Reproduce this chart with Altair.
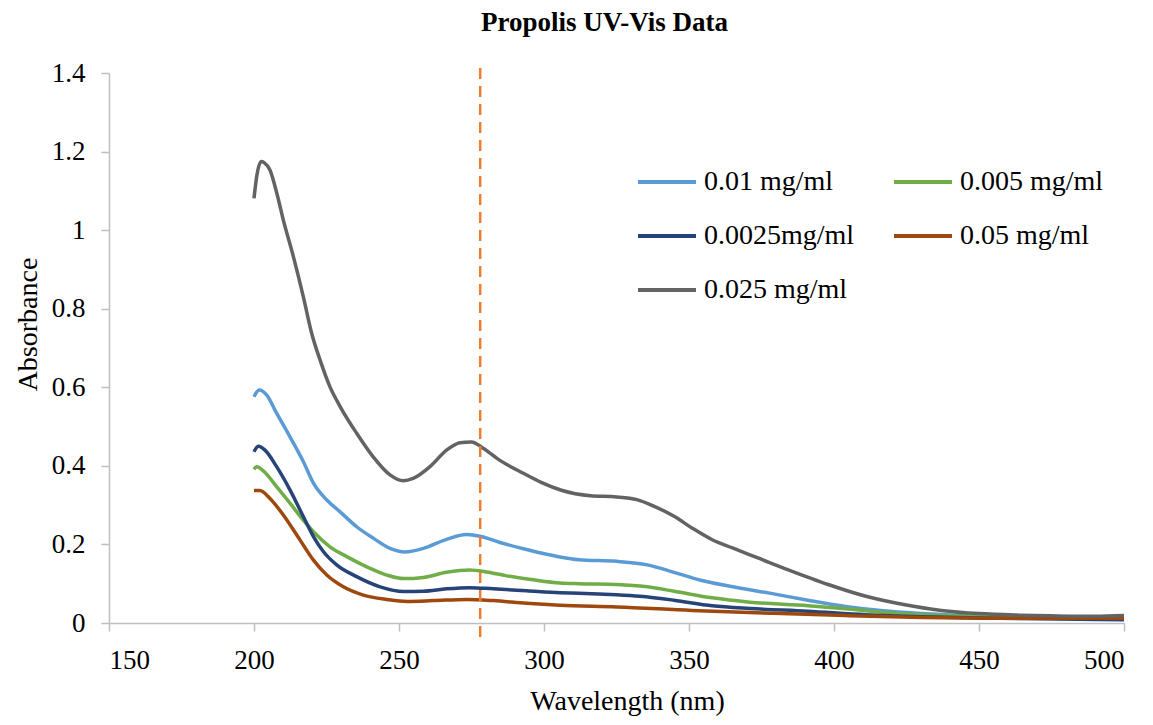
import altair as alt
import pandas as pd

series_names = ["0.01 mg/ml", "0.005 mg/ml", "0.0025mg/ml", "0.05 mg/ml", "0.025 mg/ml"]
series_colors = ["#5B9BD5", "#70AD47", "#264478", "#9E480E", "#636363"]
# legend is filled column by column: first column 0.01, 0.0025, 0.025; second 0.005, 0.05
legend_order = ["0.01 mg/ml", "0.0025mg/ml", "0.025 mg/ml", "0.005 mg/ml", "0.05 mg/ml"]
legend_colors = ["#5B9BD5", "#264478", "#636363", "#70AD47", "#9E480E"]

wl_001 = [200, 201.8, 204.4, 207.8, 212.4, 217, 220.5, 225.1, 229.7, 235.4, 241.1, 246.9, 252, 258.4,
          266.4, 273.3, 277.9, 284.8, 292.9, 299, 305.5, 312, 325, 335.6, 344.8, 354, 364.6, 377.8,
          391, 404, 417, 430.5, 450, 470, 500]
ab_001 = [0.576, 0.593, 0.580, 0.534, 0.474, 0.411, 0.356, 0.313, 0.283, 0.245, 0.216, 0.190, 0.181, 0.190,
          0.213, 0.225, 0.221, 0.205, 0.189, 0.178, 0.168, 0.161, 0.157, 0.148, 0.129, 0.109, 0.093, 0.076,
          0.058, 0.042, 0.031, 0.024, 0.017, 0.014, 0.014]

wl_0005 = [200, 200.9, 203.8, 207.8, 212.4, 217, 221.6, 226.2, 232, 238.9, 245.8, 251.5, 258.4, 266.4,
           274.4, 280.2, 287.1, 296.3, 305.5, 312, 325, 335.6, 344.8, 358, 371, 391, 404, 417, 430.5,
           450, 470, 500]
ab_0005 = [0.391, 0.398, 0.383, 0.347, 0.305, 0.262, 0.224, 0.194, 0.169, 0.143, 0.122, 0.113, 0.116, 0.129,
           0.135, 0.130, 0.120, 0.110, 0.102, 0.100, 0.098, 0.092, 0.081, 0.064, 0.053, 0.044, 0.036, 0.027,
           0.021, 0.016, 0.014, 0.013]

wl_00025 = [200, 201.5, 203.8, 207.8, 212.4, 217, 220.5, 223.9, 228.5, 235.4, 243.5, 251.5, 258.4, 266.4,
            274.4, 282.5, 294, 305.5, 312, 325, 333, 344.8, 358, 371, 391, 411, 430.5, 457, 500]
ab_00025 = [0.436, 0.450, 0.440, 0.398, 0.339, 0.271, 0.220, 0.182, 0.148, 0.118, 0.092, 0.080, 0.081, 0.087,
            0.090, 0.087, 0.082, 0.077, 0.076, 0.072, 0.068, 0.058, 0.044, 0.037, 0.030, 0.021, 0.016, 0.012,
            0.008]

wl_005 = [200, 202, 205.5, 210.1, 215.9, 220.5, 225.1, 230.8, 237.7, 245.8, 252.7, 261.9, 273.3, 282.5,
          294, 305.5, 325, 351, 378, 404, 430.5, 457, 500]
ab_005 = [0.337, 0.337, 0.317, 0.275, 0.211, 0.160, 0.122, 0.092, 0.071, 0.060, 0.055, 0.057, 0.060, 0.057,
          0.050, 0.045, 0.041, 0.032, 0.025, 0.019, 0.014, 0.012, 0.012]

wl_0025 = [200, 201, 202.5, 203.5, 205.5, 208, 210.1, 213.6, 217, 219.9, 222.8, 226.2, 229.7, 235.4, 241.1,
           246.9, 251.5, 254.9, 260.7, 266.4, 271, 275, 279, 284.8, 292.9, 299, 306, 316, 325, 332, 338,
           345, 351, 358, 365, 374, 384, 398, 411, 424, 437, 450, 464, 477, 490, 500]
ab_0025 = [1.081, 1.14, 1.175, 1.172, 1.153, 1.09, 1.026, 0.932, 0.831, 0.737, 0.669, 0.601, 0.551, 0.483,
           0.423, 0.377, 0.362, 0.368, 0.398, 0.440, 0.459, 0.461, 0.445, 0.414, 0.381, 0.358, 0.338, 0.324,
           0.321, 0.314, 0.297, 0.271, 0.242, 0.212, 0.191, 0.165, 0.136, 0.098, 0.068, 0.047, 0.032, 0.024,
           0.020, 0.018, 0.017, 0.019]

marker_wavelength = [278]
x_ticks = [150, 200, 250, 300, 350, 400, 450, 500]
y_ticks = [0, 0.2, 0.4, 0.6, 0.8, 1.0, 1.2, 1.4]

all_series = [
    (series_names[0], wl_001, ab_001),
    (series_names[1], wl_0005, ab_0005),
    (series_names[2], wl_00025, ab_00025),
    (series_names[3], wl_005, ab_005),
    (series_names[4], wl_0025, ab_0025),
]
rows = []
for name, wls, abs_ in all_series:
    for w, a in zip(wls, abs_):
        rows.append({"series": name, "wavelength": w, "absorbance": a})
df = pd.DataFrame(rows)

W, H = 1015, 550
FONT = "Liberation Serif"

x_enc = alt.X("wavelength:Q", scale=alt.Scale(domain=[150, 500], nice=False, zero=False),
              axis=alt.Axis(values=x_ticks, title="Wavelength (nm)", titleX=518, titleY=78,
                            titleBaseline="middle", labelPadding=16, labelFont=FONT,
                            labelFontSize=27, titleFont=FONT))

lines = alt.Chart(df).mark_line(strokeWidth=3.5, interpolate="monotone").encode(
    x=x_enc,
    y=alt.Y("absorbance:Q", scale=alt.Scale(domain=[0, 1.4], nice=False),
            axis=alt.Axis(values=y_ticks, format=".1~f", title="Absorbance", titleX=-81, titleY=251,
                          titleAlign="center", titleBaseline="middle", labelPadding=16,
                          labelFont=FONT, labelFontSize=27, titleFont=FONT)),
    color=alt.Color("series:N", scale=alt.Scale(domain=legend_order, range=legend_colors),
                    sort=legend_order,
                    legend=alt.Legend(title=None, orient="none", legendX=527, legendY=78, columns=2,
                                      symbolType="stroke", symbolSize=3364, symbolStrokeWidth=4,
                                      labelFont=FONT, labelFontSize=28, labelColor="black",
                                      labelOffset=6, columnPadding=31, rowPadding=9, labelLimit=0)),
)

rule = alt.Chart(pd.DataFrame({"wavelength": marker_wavelength})).mark_rule(
    color="#ED7D31", strokeWidth=2.5, strokeDash=[11, 7]
).encode(x="wavelength:Q", y=alt.value(-5), y2=alt.value(H + 14))

chart = alt.layer(lines, rule).properties(
    width=W, height=H,
    title=alt.TitleParams("Propolis UV-Vis Data", font=FONT, fontSize=27, fontWeight="bold",
                          color="black", anchor="middle", dx=-12, offset=22),
    autosize=alt.AutoSizeParams(type="none"),
    padding={"left": 101, "top": 65, "right": 20, "bottom": 94},
).configure_view(stroke=None).configure_axis(
    grid=False, domainColor="#BFBFBF", tickColor="#BFBFBF", domainWidth=1.5, tickWidth=1.5,
    tickSize=8, labelFont=FONT, labelFontSize=27, labelColor="black",
    titleFont=FONT, titleFontSize=28, titleFontWeight="normal", titleColor="black",
)

chart.save("out.html", embed_options={"renderer": "svg", "actions": False})
